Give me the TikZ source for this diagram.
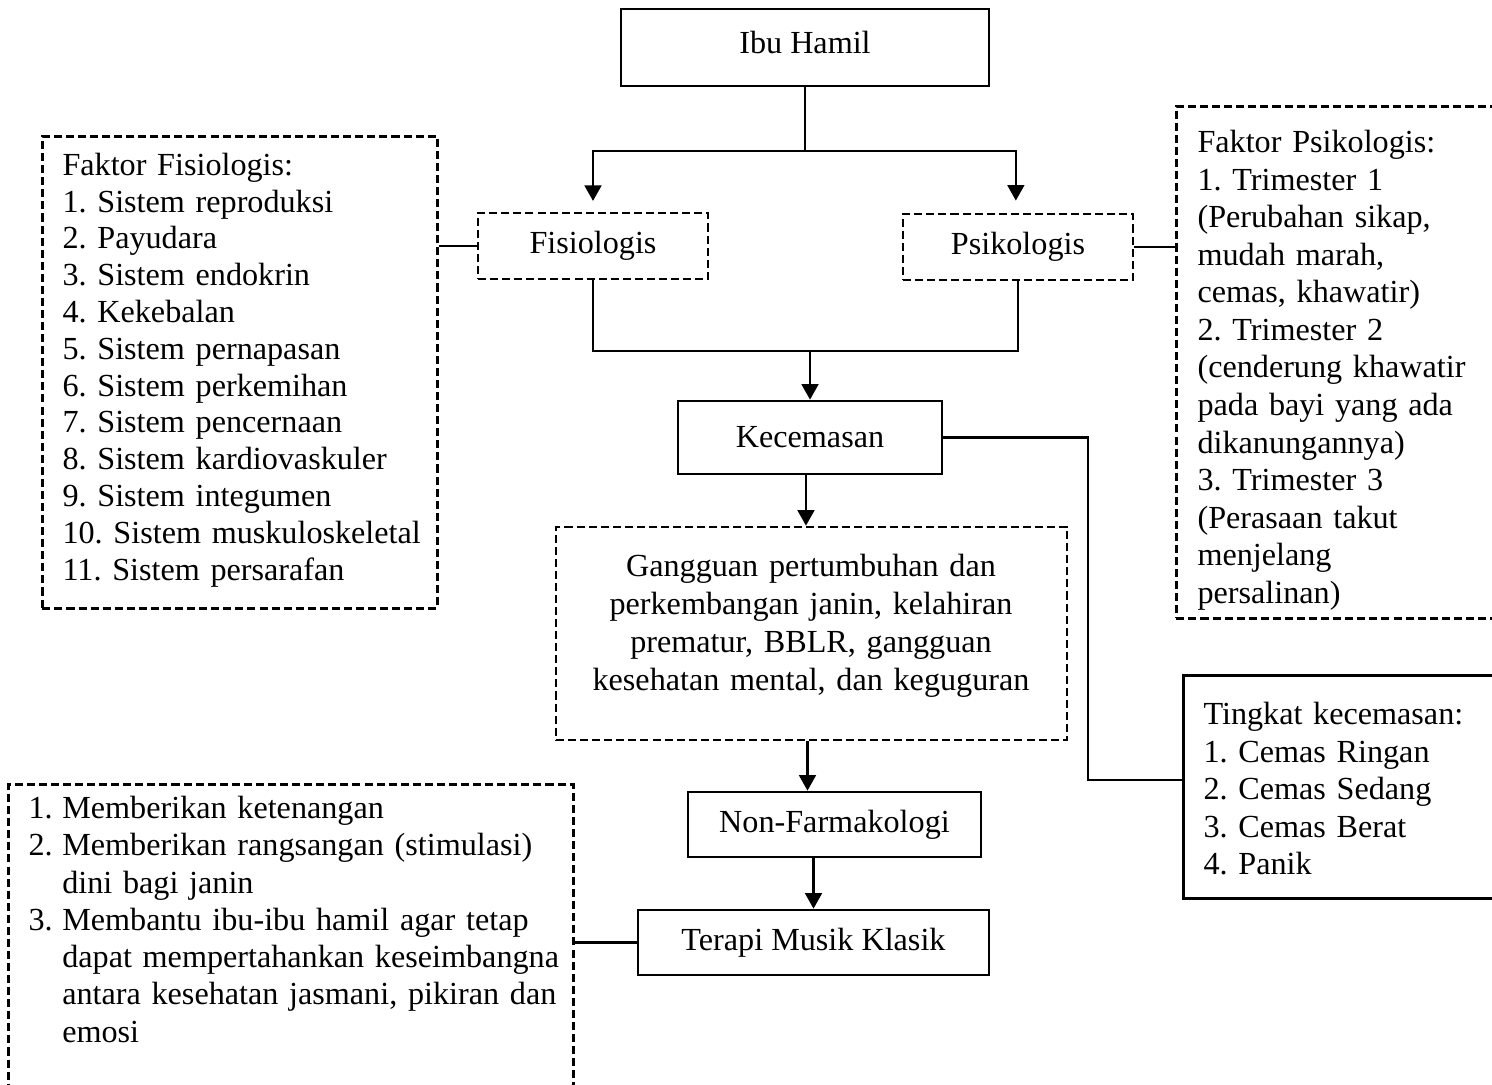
\documentclass[tikz,border=0pt]{standalone}
\usepackage{fontspec}
\setmainfont{Liberation Serif}
\usetikzlibrary{arrows.meta}
\newcommand{\pxl}{0.373pt}
\begin{document}
\frenchspacing
\begin{tikzpicture}[x=0.373pt,y=-0.373pt,
  every node/.style={inner sep=0pt, font=\fontsize{12}{13.8}\selectfont\frenchspacing},
  solidbox/.style={draw, line width=1pt},
  dashbox/.style={draw, line width=1pt, dash pattern=on 3pt off 1.5pt},
  conn/.style={line width=0.8pt},
  arr/.style={conn, -{Triangle[width=6.3pt,length=5.8pt]}},
  listtext/.style={anchor=north west, align=left}
]
\useasboundingbox (0,0) rectangle (1492,1085);
\clip (0,0) rectangle (1492,1085);

% main chain
\node[solidbox, minimum width=368*\pxl, minimum height=77*\pxl] (ibu) at (805,47.5) {};
\node (ibut) at (805,43) {Ibu Hamil};
\node[dashbox, minimum width=230*\pxl, minimum height=66*\pxl] (fis) at (593,246) {Fisiologis};
\node[dashbox, minimum width=230*\pxl, minimum height=66*\pxl] (psi) at (1018,247) {Psikologis};
\node[solidbox, minimum width=264*\pxl, minimum height=73*\pxl] (kec) at (810,437.5) {Kecemasan};
\node[dashbox, minimum width=511*\pxl, minimum height=213*\pxl] (gang) at (811.5,633.5) {};
\node[anchor=north, align=center, text width=200pt, font=\fontsize{12}{14.2}\selectfont\frenchspacing] (gangt) at (811,549)
  {\strut Gangguan pertumbuhan dan\\ perkembangan janin, kelahiran\\ prematur, BBLR, gangguan\\ kesehatan mental, dan keguguran};
\node[solidbox, minimum width=293*\pxl, minimum height=65*\pxl] (nonf) at (834.5,824.5) {Non-Farmakologi};
\node[solidbox, minimum width=351*\pxl, minimum height=65*\pxl] (ter) at (813.5,942.5) {Terapi Musik Klasik};

% side boxes
\node[dashbox, minimum width=395*\pxl, minimum height=472*\pxl, anchor=north west] (lf) at (41,135) {};
\node[listtext, text width=140pt, font=\fontsize{12}{13.73}\selectfont\frenchspacing] (lft) at (62,149)
  {\strut Faktor Fisiologis:\\
   1. Sistem reproduksi\\
   2. Payudara\\
   3. Sistem endokrin\\
   4. Kekebalan\\
   5. Sistem pernapasan\\
   6. Sistem perkemihan\\
   7. Sistem pencernaan\\
   8. Sistem kardiovaskuler\\
   9. Sistem integumen\\
   10. Sistem muskuloskeletal\\
   11. Sistem persarafan};

\node[dashbox, minimum width=345*\pxl, minimum height=512*\pxl, anchor=north west] (rp) at (1175,105) {};
\node[listtext, text width=115pt, font=\fontsize{12}{14.0}\selectfont\frenchspacing] (rpt) at (1197,126)
  {\strut Faktor Psikologis:\\
   1. Trimester 1\\
   (Perubahan sikap,\\
   mudah marah,\\
   cemas, khawatir)\\
   2. Trimester 2\\
   (cenderung khawatir\\
   pada bayi yang ada\\
   dikanungannya)\\
   3. Trimester 3\\
   (Perasaan takut\\
   menjelang\\
   persalinan)};

\node[solidbox, minimum width=338*\pxl, minimum height=223*\pxl, anchor=north west] (tk) at (1182,674) {};
\node[listtext, text width=115pt, font=\fontsize{12}{14.0}\selectfont\frenchspacing] (tkt) at (1203,698)
  {\strut Tingkat kecemasan:\\
   1. Cemas Ringan\\
   2. Cemas Sedang\\
   3. Cemas Berat\\
   4. Panik};

\node[dashbox, minimum width=565*\pxl, minimum height=320*\pxl, anchor=north west] (lb) at (7,783) {};
\node[listtext, text width=200pt, font=\fontsize{12}{13.9}\selectfont\frenchspacing] (lbt) at (28,792)
  {\strut\makebox[12.6pt][l]{1.}Memberikan ketenangan\\
   \makebox[12.6pt][l]{2.}Memberikan rangsangan (stimulasi)\\
   \hspace*{12.6pt}dini bagi janin\\
   \makebox[12.6pt][l]{3.}Membantu ibu-ibu hamil agar tetap\\
   \hspace*{12.6pt}dapat mempertahankan keseimbangna\\
   \hspace*{12.6pt}antara kesehatan jasmani, pikiran dan\\
   \hspace*{12.6pt}emosi};

% connectors
\coordinate (split) at (805,151);
\coordinate (join) at (810,351);
\coordinate (kb) at (1088,780);
\draw[conn] (ibu.south) -- (split);
\draw[arr, shorten >=4pt] (split) -| (fis.north);
\draw[arr, shorten >=4.5pt] (split) -| ([xshift=-0.8pt]psi.north);
\draw[conn] (fis.south) |- (join) -| (psi.south);
\draw[arr] (join) -- (kec.north);
\draw[conn] (fis.west) -- (fis.west -| lf.east);
\draw[conn] (psi.east) -- (psi.east -| rp.west);
\draw[conn] (kec.east) -| (kb) -- (kb -| tk.west);
\draw[arr] ([xshift=-1.5pt]kec.south) -- ([xshift=-1.5pt]kec.south |- gang.north);
\draw[arr] ([xshift=-1.5pt]gang.south) -- ([xshift=-1.5pt]gang.south |- nonf.north);
\draw[arr] (ter.north |- nonf.south) -- (ter.north);
\draw[conn] (ter.west) -- (ter.west -| lb.east);
\end{tikzpicture}
\end{document}
